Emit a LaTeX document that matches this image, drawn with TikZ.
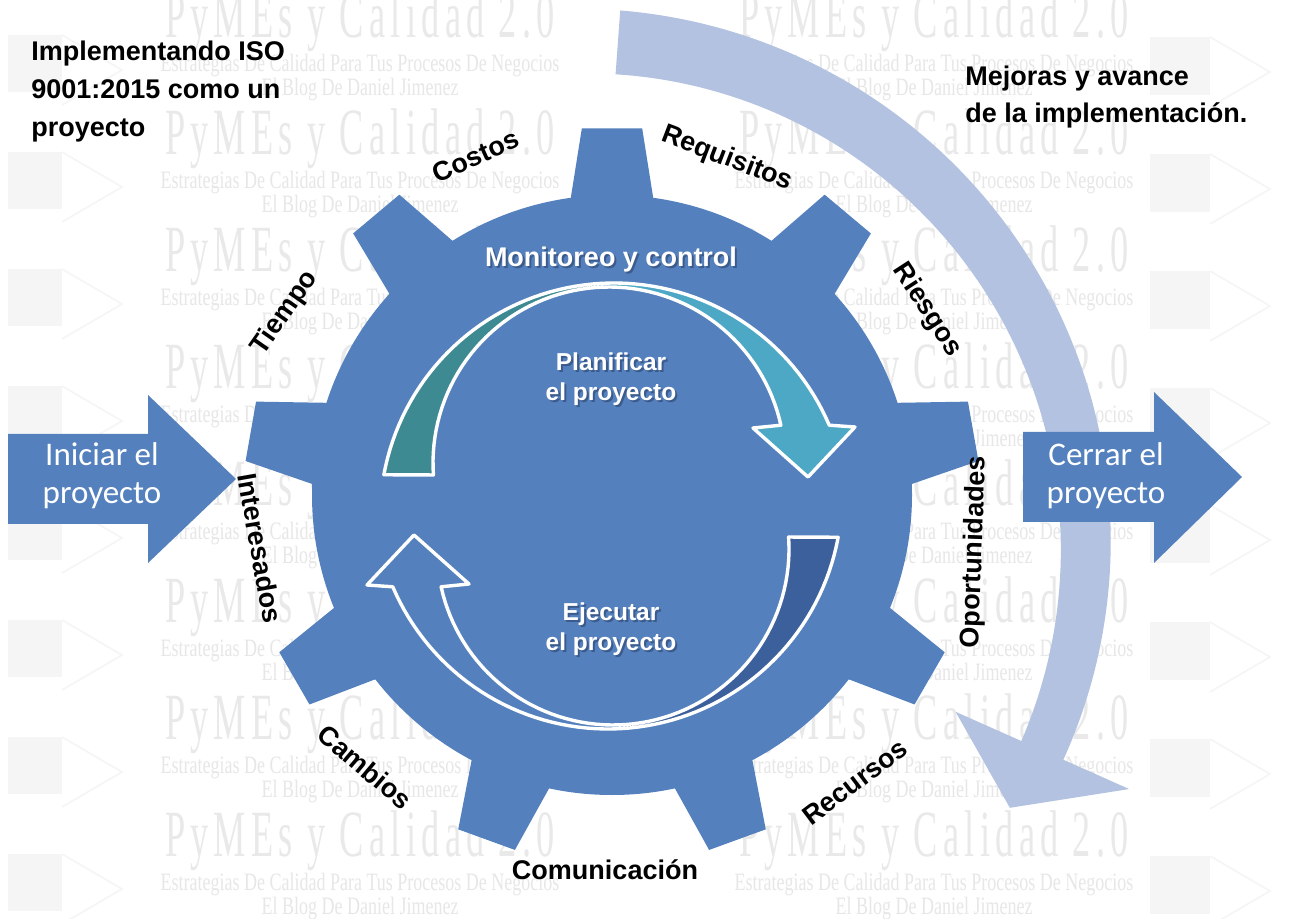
\documentclass[tikz,border=0pt]{standalone}
\usepackage{fontspec}
\setmainfont{Liberation Sans}
\newfontfamily\calfont{Carlito}
\newfontfamily\wmfont{Liberation Serif}[FakeStretch=0.55, LetterSpace=8]
\newfontfamily\wmsubfont{Liberation Serif}[FakeStretch=0.72]
\definecolor{gearblue}{RGB}{84,129,190}
\definecolor{tealdark}{RGB}{62,138,146}
\definecolor{teallight}{RGB}{76,168,196}
\definecolor{deepblue}{RGB}{60,96,156}
\definecolor{bandblue}{RGB}{178,194,224}
\definecolor{wmgray}{RGB}{233,233,233}
\definecolor{wmgraysub}{RGB}{231,231,231}
\definecolor{wmbox}{RGB}{245,245,245}
\definecolor{shadowblue}{RGB}{40,60,100}
% crescent arrow of the inner cycle (upper one; the lower one is this rotated by 180 degrees)
\def\ringpath{plot[domain=169.6:23.1, samples=70] ({614+234*cos(\x)},{517-234*sin(\x)})
  -- (855,427) -- (808,477) -- (753,428)
  -- plot[domain=12.4:183.9, samples=70] ({609+176*cos(\x)},{463-176*sin(\x)}) -- cycle}
\begin{document}
\begin{tikzpicture}[x=0.5pt, y=-0.5pt,
  lbl/.style={font=\fontsize{13.5}{16}\selectfont\bfseries, text=black, inner sep=0pt},
  note/.style={font=\fontsize{13.5}{19}\selectfont\bfseries, text=black, align=left, inner sep=0pt},
  intext/.style={font=\fontsize{13.5}{16}\selectfont\bfseries, text=white, inner sep=0pt},
  insmall/.style={font=\fontsize{12.25}{15}\selectfont\bfseries, text=white, align=center, inner sep=0pt},
  shade/.style={text=shadowblue, opacity=0.55},
  arrtext/.style={font=\calfont\fontsize{16.5}{19}\selectfont, text=white, align=center, inner sep=0pt},
  wmtitle/.style={font=\wmfont\fontsize{33}{33}\selectfont, text=wmgray, inner sep=0pt},
  wmsub/.style={font=\wmsubfont\fontsize{12.5}{13}\selectfont, text=wmgraysub, inner sep=0pt}]
\useasboundingbox (0,0) rectangle (1307,919);
\fill[white] (0,0) rectangle (1307,919);

% background watermark
\foreach \r in {0,...,7} {
  \fill[wmbox] (8,{35+117*\r}) rectangle (62,{92+117*\r});
  \draw[wmbox, line width=0.8pt] (62,{35+117*\r}) -- (122,{70+117*\r}) -- (62,{105+117*\r});
  \fill[wmbox] (1150,{37+117*\r}) rectangle (1210,{95+117*\r});
  \draw[wmbox, line width=0.8pt] (1210,{37+117*\r}) -- (1270,{72+117*\r}) -- (1210,{107+117*\r});
  \foreach \c in {360,934} {
    \node[wmtitle] (wmt-\r-\c) at (\c,{22+117*\r}) {PyMEs y Calidad 2.0};
    \node[wmsub] (wms-\r-\c) at (\c,{66+117*\r}) {Estrategias De Calidad Para Tus Procesos De Negocios};
    \node[wmsub] (wmb-\r-\c) at (\c,{90+117*\r}) {El Blog De Daniel Jimenez};
  }
}

% outer progress band
\fill[bandblue]
  plot[domain=85.8:-24, samples=100] ({581+(528+8*(\x+24)/109.8)*cos(\x)},{545-(528+8*(\x+24)/109.8)*sin(\x)})
  -- ({581+600*cos(-24)},{545-600*sin(-24)})
  -- ({581+503*cos(-31.5)},{545-503*sin(-31.5)})
  -- ({581+410*cos(-24)},{545-410*sin(-24)})
  -- plot[domain=-24:85.8, samples=100] ({581+(482-10*(\x+24)/109.8)*cos(\x)},{545-(482-10*(\x+24)/109.8)*sin(\x)})
  -- cycle;

% gear
\fill[gearblue] (612,495) circle[radius=300];
\foreach \a in {90,50,...,-230} {
  \fill[gearblue] ({612+290*cos(\a+8.5)},{495-290*sin(\a+8.5)})
    -- ({612+368*cos(\a+4.7)},{495-368*sin(\a+4.7)})
    -- ({612+368*cos(\a-4.7)},{495-368*sin(\a-4.7)})
    -- ({612+290*cos(\a-8.5)},{495-290*sin(\a-8.5)}) -- cycle;
}

% inner cycle: plan (top) and execute (bottom)
\begin{scope}
  \clip (0,0) rectangle (597,919);
  \fill[tealdark] \ringpath;
\end{scope}
\begin{scope}
  \clip (597,0) rectangle (1307,919);
  \fill[teallight] \ringpath;
\end{scope}
\draw[white, line width=1.7pt, line join=round] \ringpath;
\begin{scope}[rotate around={180:(611,506)}]
  \begin{scope}
    \clip (0,0) rectangle (597,919);
    \fill[deepblue] \ringpath;
  \end{scope}
  \draw[white, line width=1.7pt, line join=round] \ringpath;
\end{scope}

% texts inside the gear
\node[intext, shade, anchor=base] (mon-s) at (613,269) {Monitoreo y control};
\node[intext, anchor=base] (mon) at (611,267) {Monitoreo y control};
\node[insmall, shade] (plan-s) at (613,381) {Planificar\\el proyecto};
\node[insmall] (plan) at (611,379) {Planificar\\el proyecto};
\node[insmall, shade] (ejec-s) at (613,631) {Ejecutar\\el proyecto};
\node[insmall] (ejec) at (611,629) {Ejecutar\\el proyecto};

% labels between the teeth
\node[lbl, rotate=24] (costos) at (476,156) {Costos};
\node[lbl, rotate=-21] (requisitos) at (727,159) {Requisitos};
\node[lbl, rotate=-57] (riesgos) at (927,310) {Riesgos};
\node[lbl, rotate=88] (oport) at (975,552) {Oportunidades};
\node[lbl, rotate=37] (recursos) at (855,782) {Recursos};
\node[lbl] (comun) at (605,870) {Comunicación};
\node[lbl, rotate=-40] (cambios) at (365,767) {Cambios};
\node[lbl, rotate=-80] (interes) at (260,548) {Interesados};
\node[lbl, rotate=55] (tiempo) at (285,313) {Tiempo};

% start and end arrows
\fill[gearblue] (8,434) -- (148,434) -- (148,395) -- (236,479) -- (148,563) -- (148,524) -- (8,524) -- cycle;
\node[arrtext] (ini) at (102,476) {Iniciar el\\proyecto};
\fill[gearblue] (1023,432) -- (1154,432) -- (1154,392) -- (1242,477) -- (1154,563) -- (1154,522) -- (1023,522) -- cycle;
\node[arrtext] (fin) at (1106,476) {Cerrar el\\proyecto};

% headings
\node[note, anchor=north west] (title) at (31,41) {Implementando ISO\\9001:2015 como un\\proyecto};
\node[note, anchor=north west, font=\fontsize{13.5}{18.5}\selectfont\bfseries] (mejoras) at (965,66) {Mejoras y avance\\de la implementación.};
\end{tikzpicture}
\end{document}
